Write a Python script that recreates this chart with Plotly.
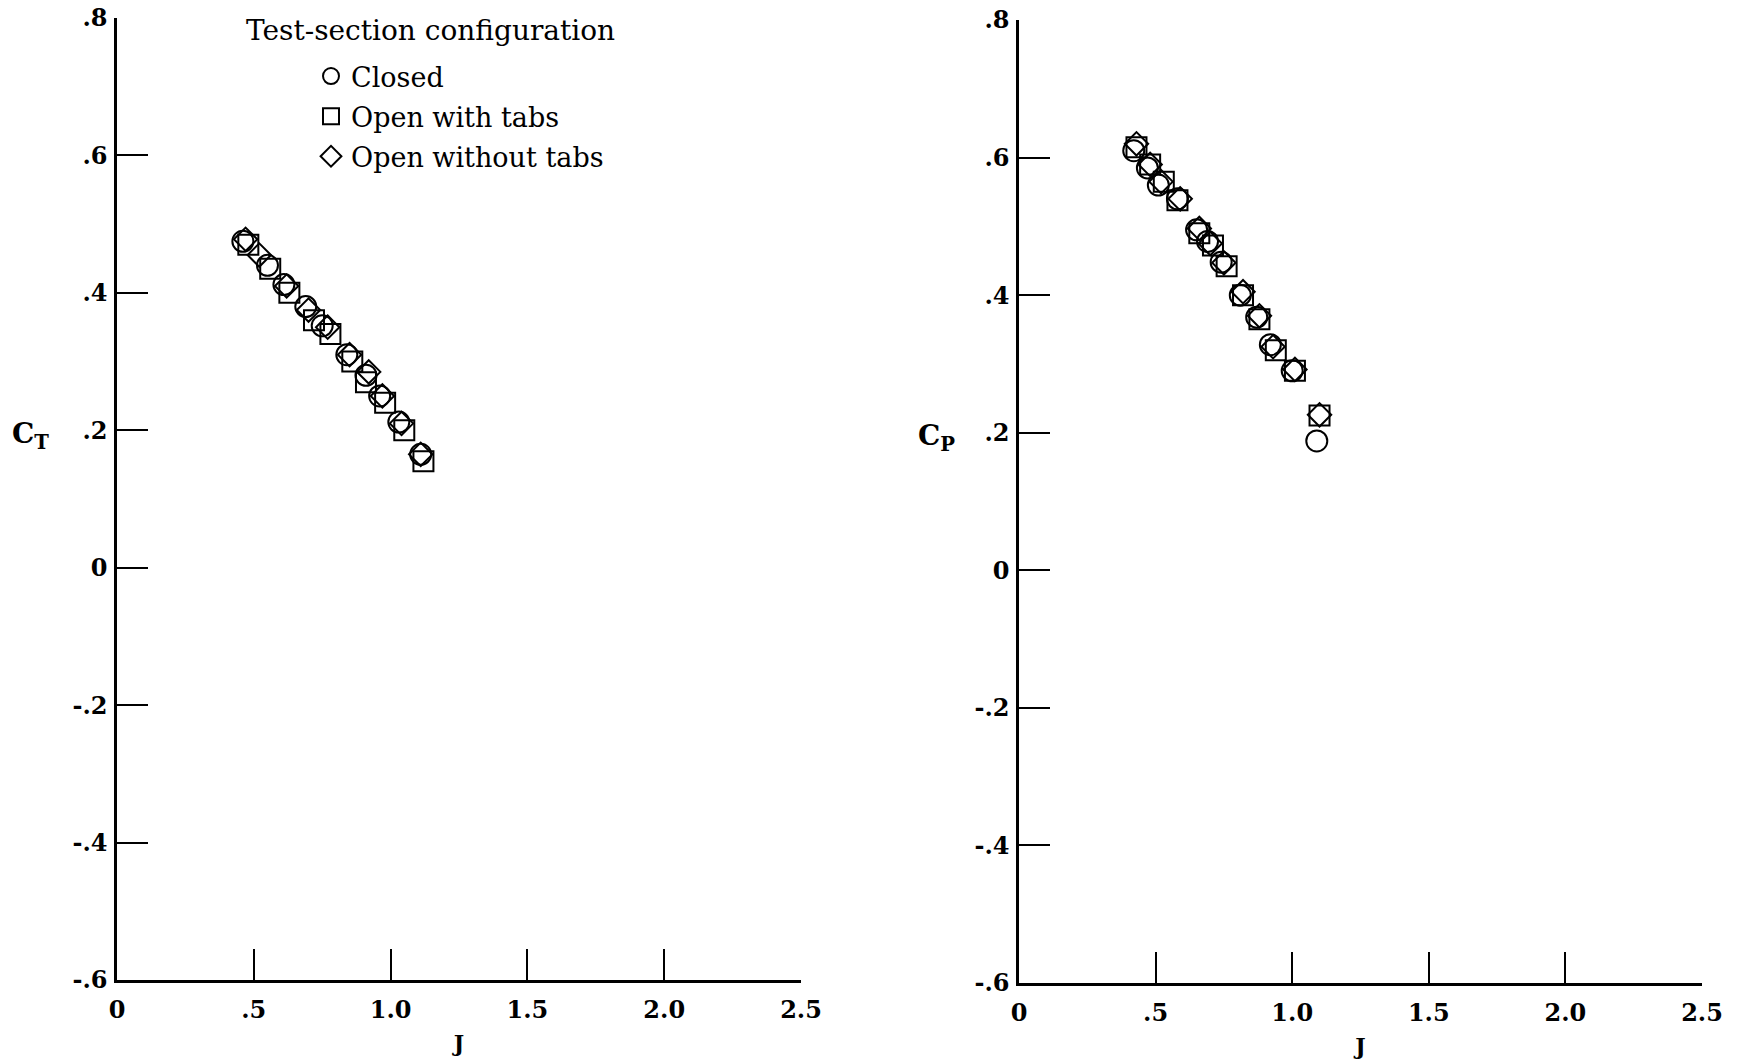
import plotly.graph_objects as go

W, H = 1742, 1064

# ---- data ----
series_names = ["Closed", "Open with tabs", "Open without tabs"]
symbols = ["circle-open", "square-open", "diamond-open"]
sizes = [21, 20, 18]

# Left panel: thrust coefficient C_T vs advance ratio J
ct_closed_J = [0.46, 0.55, 0.61, 0.69, 0.75, 0.84, 0.91, 0.96, 1.03, 1.11]
ct_closed = [0.475, 0.44, 0.412, 0.38, 0.352, 0.31, 0.28, 0.25, 0.212, 0.165]
ct_tabs_J = [0.48, 0.56, 0.63, 0.72, 0.78, 0.86, 0.91, 0.98, 1.05, 1.12]
ct_tabs = [0.47, 0.435, 0.40, 0.36, 0.34, 0.30, 0.27, 0.24, 0.20, 0.155]
ct_notabs_J = [0.47, 0.52, 0.62, 0.70, 0.77, 0.85, 0.92, 0.97, 1.04, 1.11]
ct_notabs = [0.478, 0.455, 0.41, 0.375, 0.35, 0.31, 0.285, 0.25, 0.21, 0.165]

# Right panel: power coefficient C_P vs J
cp_closed_J = [0.42, 0.47, 0.51, 0.58, 0.65, 0.69, 0.74, 0.81, 0.87, 0.92, 1.00, 1.09]
cp_closed = [0.61, 0.585, 0.56, 0.54, 0.495, 0.478, 0.448, 0.40, 0.368, 0.328, 0.29, 0.188]
cp_tabs_J = [0.43, 0.48, 0.53, 0.58, 0.66, 0.71, 0.76, 0.82, 0.88, 0.94, 1.01, 1.10]
cp_tabs = [0.615, 0.59, 0.565, 0.538, 0.49, 0.472, 0.442, 0.40, 0.365, 0.32, 0.29, 0.225]
cp_notabs_J = [0.43, 0.48, 0.52, 0.59, 0.66, 0.70, 0.75, 0.82, 0.88, 0.93, 1.01, 1.10]
cp_notabs = [0.62, 0.59, 0.565, 0.54, 0.497, 0.475, 0.447, 0.405, 0.37, 0.325, 0.292, 0.226]

x_tickvals = [0, 0.5, 1.0, 1.5, 2.0, 2.5]
x_ticktext = ["0", ".5", "1.0", "1.5", "2.0", "2.5"]
y_tickvals = [-0.6, -0.4, -0.2, 0, 0.2, 0.4, 0.6, 0.8]
y_ticktext = ["-.6", "-.4", "-.2", "0", ".2", ".4", ".6", ".8"]

left_sets = [(ct_closed_J, ct_closed), (ct_tabs_J, ct_tabs), (ct_notabs_J, ct_notabs)]
right_sets = [(cp_closed_J, cp_closed), (cp_tabs_J, cp_tabs), (cp_notabs_J, cp_notabs)]

FONT = "DejaVu Serif"

fig = go.Figure()
for i, name in enumerate(series_names):
    xs, ys = left_sets[i]
    fig.add_trace(go.Scatter(
        x=xs, y=ys, mode="markers", name=name, legendgroup=name,
        marker=dict(symbol=symbols[i], size=sizes[i], color="black",
                    line=dict(width=2, color="black")),
        xaxis="x", yaxis="y"))
for i, name in enumerate(series_names):
    xs, ys = right_sets[i]
    fig.add_trace(go.Scatter(
        x=xs, y=ys, mode="markers", name=name, legendgroup=name, showlegend=False,
        marker=dict(symbol=symbols[i], size=sizes[i], color="black",
                    line=dict(width=2, color="black")),
        xaxis="x2", yaxis="y2"))

def xaxis(domain, anchor):
    return dict(domain=domain, anchor=anchor, range=[0, 2.5], automargin=False,
                tickvals=x_tickvals, ticktext=x_ticktext,
                ticks="inside", ticklen=31, tickwidth=2, tickcolor="black",
                showline=True, linewidth=2.5, linecolor="black", mirror=False,
                showgrid=False, zeroline=False,
                tickfont=dict(family=FONT, size=24, color="black", weight="bold"),
                ticklabelstandoff=6,
                title=dict(text="J", font=dict(family=FONT, size=22, color="black", weight="bold"),
                           standoff=14))

def yaxis(domain, anchor):
    return dict(domain=domain, anchor=anchor, range=[-0.6, 0.8], automargin=False,
                tickvals=y_tickvals, ticktext=y_ticktext,
                ticks="inside", ticklen=31, tickwidth=2, tickcolor="black",
                showline=True, linewidth=2.5, linecolor="black", mirror=False,
                showgrid=False, zeroline=False,
                tickfont=dict(family=FONT, size=24, color="black", weight="bold"),
                ticklabelstandoff=2)

fig.update_layout(
    width=W, height=H,
    margin=dict(l=0, r=0, t=0, b=0, autoexpand=False),
    paper_bgcolor="white", plot_bgcolor="white",
    xaxis=xaxis([117 / W, 801 / W], "y"),
    yaxis=yaxis([(H - 980) / H, (H - 18) / H], "x"),
    xaxis2=xaxis([1019 / W, 1702 / W], "y2"),
    yaxis2=yaxis([(H - 983) / H, (H - 20) / H], "x2"),
    legend=dict(x=311 / W, y=1 - 52 / H, xanchor="left", yanchor="top",
                bgcolor="rgba(0,0,0,0)", borderwidth=0,
                font=dict(family=FONT, size=27, color="black"),
                tracegroupgap=2, itemsizing="trace"),
    showlegend=True,
    annotations=[
        dict(text="Test-section configuration", xref="paper", yref="paper",
             x=244 / W, y=1 - 30 / H, xanchor="left", yanchor="middle", showarrow=False,
             font=dict(family=FONT, size=28, color="black")),
        dict(text="C<sub>T</sub>", xref="paper", yref="paper",
             x=10 / W, y=1 - 435 / H, xanchor="left", yanchor="middle", showarrow=False,
             font=dict(family=FONT, size=28, color="black", weight="bold")),
        dict(text="C<sub>P</sub>", xref="paper", yref="paper",
             x=916 / W, y=1 - 437 / H, xanchor="left", yanchor="middle", showarrow=False,
             font=dict(family=FONT, size=28, color="black", weight="bold")),
    ],
)

fig.write_html("out.html", config={"displayModeBar": False},
               post_script="document.body.style.margin='0';")
